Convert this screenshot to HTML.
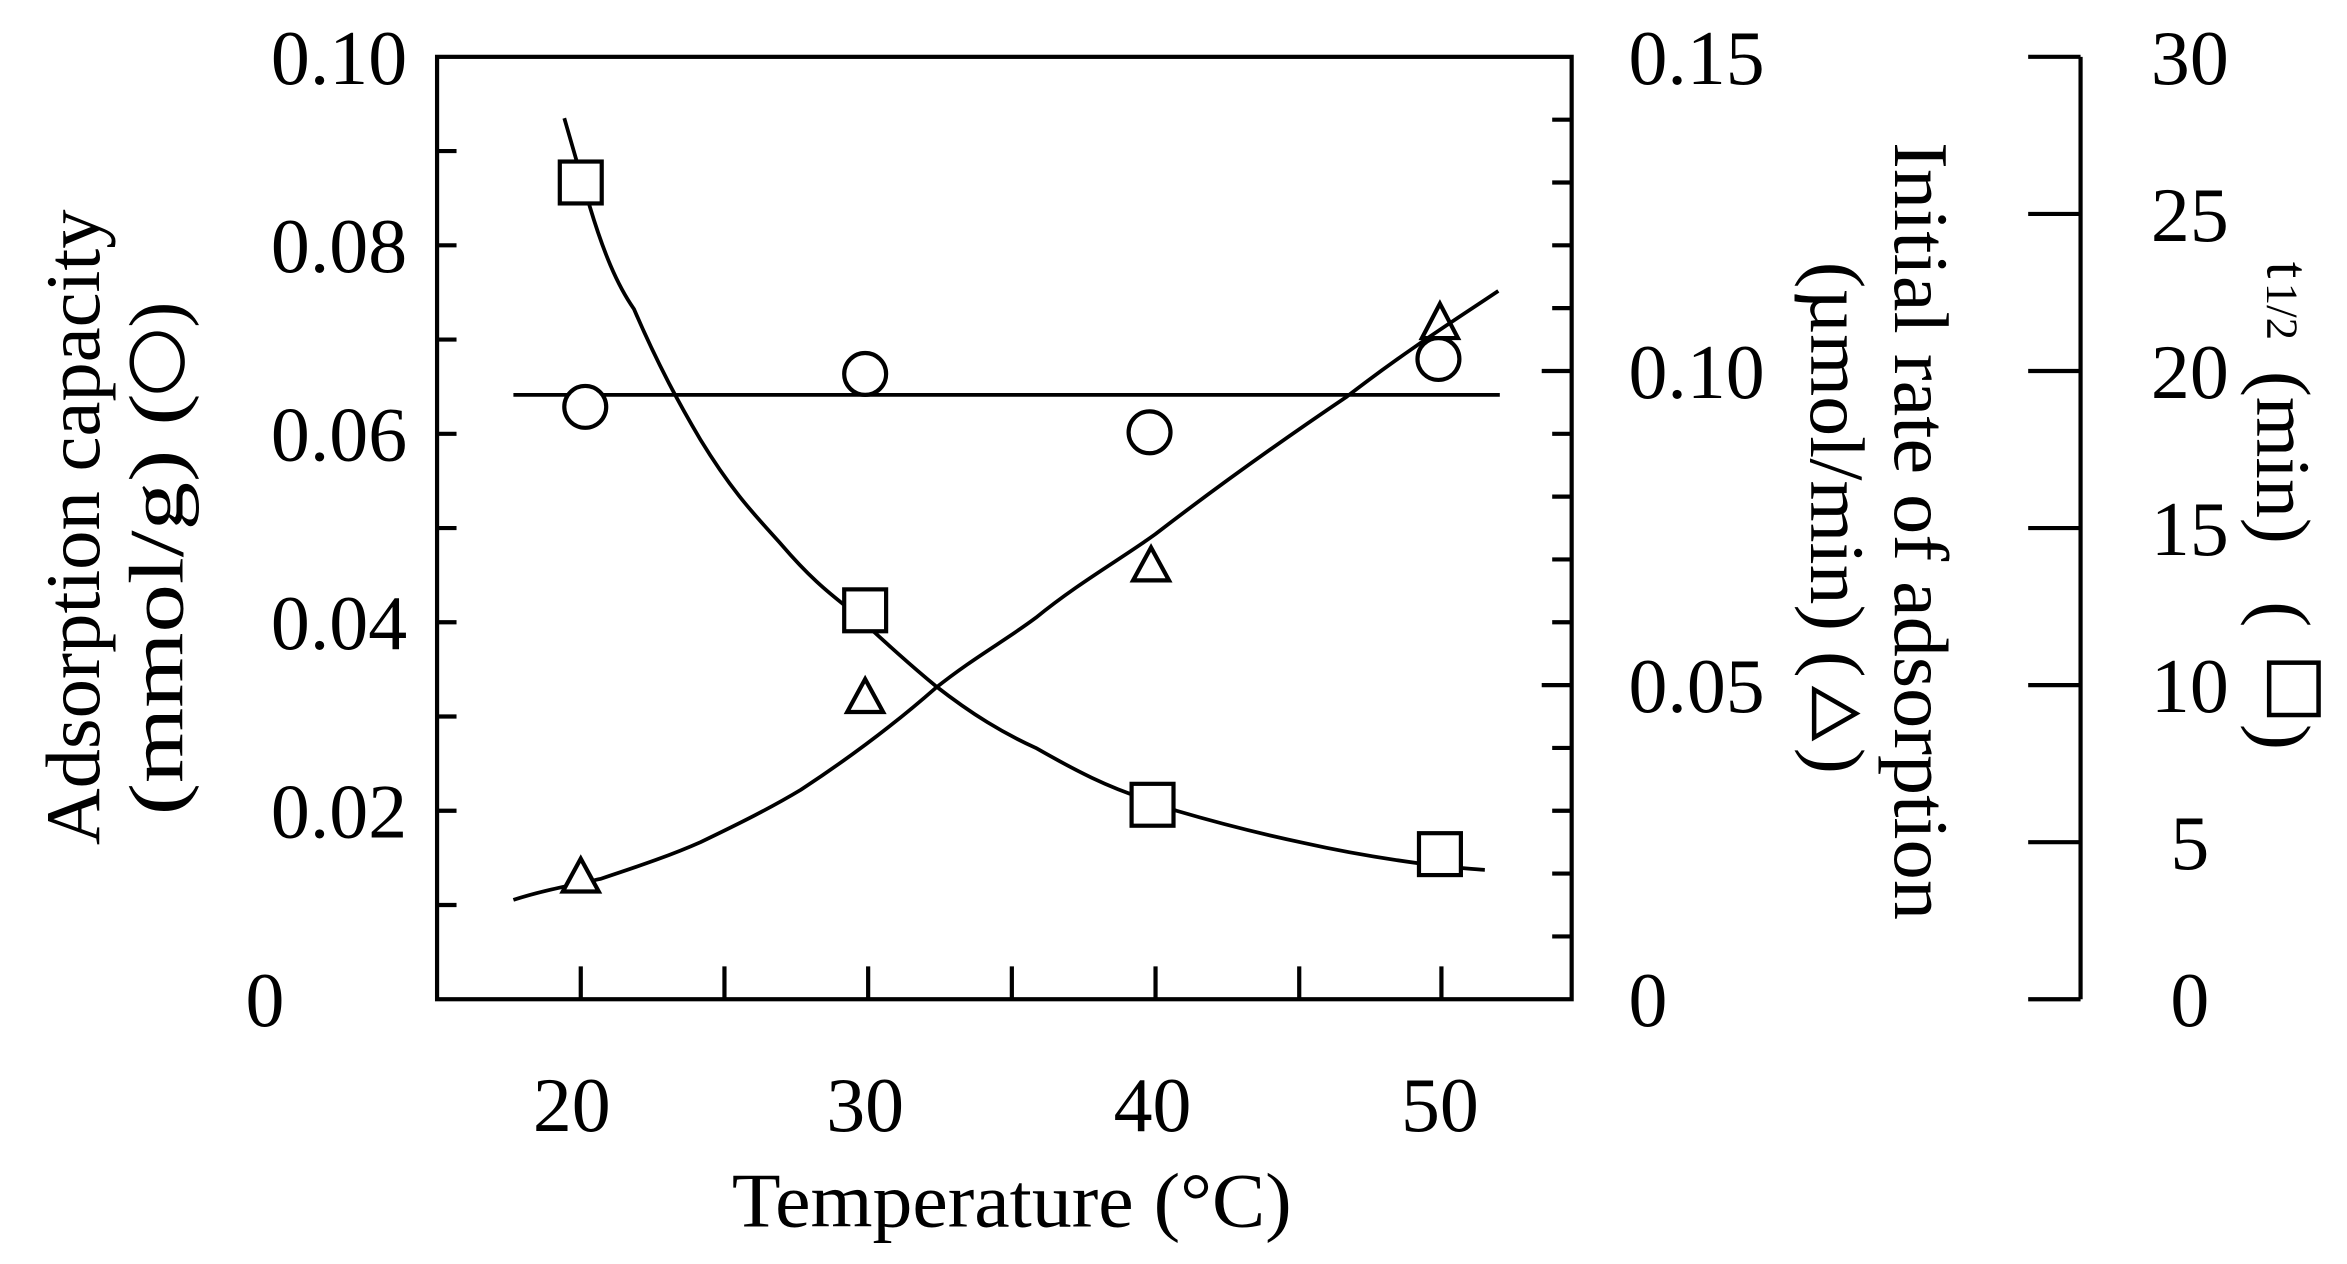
<!DOCTYPE html>
<html><head><meta charset="utf-8"><style>
html,body{margin:0;padding:0;background:#fff;}
svg{display:block;}
text{font-family:"Liberation Serif","DejaVu Serif",serif;fill:#000;}
</style></head><body>
<svg width="2347" height="1264" viewBox="0 0 1568 845" preserveAspectRatio="none" xmlns="http://www.w3.org/2000/svg">
<rect x="0" y="0" width="1568" height="845" fill="#fff"/>
<g stroke="#000" stroke-width="2.8" fill="none">
<rect x="292" y="38" width="758" height="630"/>
<path d="M292 101h13M292 164h13M292 227h13M292 290h13M292 353h13M292 416h13M292 479h13M292 542h13M292 605h13"/>
<path d="M1050 80h-13M1050 122h-13M1050 164h-13M1050 206h-13M1050 248h-20M1050 290h-13M1050 332h-13M1050 374h-13M1050 416h-13M1050 458h-20M1050 500h-13M1050 542h-13M1050 584h-13M1050 626h-13"/>
<path d="M388 668v-22M484 668v-22M580 668v-22M676 668v-22M772 668v-22M868 668v-22M963 668v-22"/>
<path d="M1390 38v630M1355 38h35M1355 143h35M1355 248h35M1355 353h35M1355 458h35M1355 563h35M1355 668h35"/>
</g>
<g stroke="#000" stroke-width="2.5" fill="none">
<path d="M343 264H1002"/>
<path d="M377 79 L394 138 C403 168 412 190 423.5 206.5 C440 245 455 272 468 294 C490 330 505 345 522 364 C540 385 552 395 566 406 C590 428 605 442 625 458.5 C650 478 670 490 692 500 C720 516 740 526 763.5 533.6 C775 538 780 540 786 542 C820 552 845 558 871 563.5 C900 570 925 574 947 577 C965 579 980 581 992 581.5"/>
<path d="M343 601.6 C360 596 380 592 401 587.6 C430 578 450 571 468 563 C495 550 515 540 535 528 C570 505 600 482 625 460 C650 440 672 428 692 413 C720 390 750 373 772 357 C820 320 860 292 900 265 C940 234 975 212 1001 194.5"/>
</g>
<g stroke="#000" stroke-width="2.8" fill="#fff">
<circle cx="391" cy="272" r="14"/>
<circle cx="578" cy="250" r="14"/>
<circle cx="768" cy="289" r="14"/>
<circle cx="961" cy="240" r="14"/>
<rect x="374" y="108" width="28" height="28"/>
<rect x="564" y="394" width="28" height="28"/>
<rect x="756" y="524" width="28" height="28"/>
<rect x="948" y="557" width="28" height="28"/>
<path d="M388 574 L400 596 L376 596 Z"/>
<path d="M578 454 L590 476 L566 476 Z"/>
<path d="M769 366 L781 388 L757 388 Z"/>
<path d="M962 203 L974 226 L950 226 Z" fill="none"/>
</g>
<g stroke="#000" stroke-width="3" fill="none">
<ellipse cx="105" cy="242" rx="17" ry="19"/>
<path d="M1212 461 L1212 493 L1240 477 Z"/>
<rect x="1516" y="443" width="33" height="35"/>
</g>
<g font-size="52">
<g text-anchor="end">
<text x="272" y="56">0.10</text>
<text x="272" y="182">0.08</text>
<text x="272" y="308">0.06</text>
<text x="272" y="434">0.04</text>
<text x="272" y="560">0.02</text>
<text x="190" y="686">0</text>
</g>
<text x="1088" y="56">0.15</text>
<text x="1088" y="266">0.10</text>
<text x="1088" y="476">0.05</text>
<text x="1088" y="686">0</text>
<g text-anchor="middle">
<text x="1463" y="56">30</text>
<text x="1463" y="161">25</text>
<text x="1463" y="266">20</text>
<text x="1463" y="371">15</text>
<text x="1463" y="476">10</text>
<text x="1463" y="581">5</text>
<text x="1463" y="686">0</text>
<text x="382" y="756">20</text>
<text x="578" y="756">30</text>
<text x="770" y="756">40</text>
<text x="962" y="756">50</text>
<text x="676" y="820" textLength="374" lengthAdjust="spacingAndGlyphs">Temperature (°C)</text>
</g>
<text transform="translate(66,565) rotate(-90)" textLength="425" lengthAdjust="spacingAndGlyphs">Adsorption capacity</text>
<text transform="translate(122,545) rotate(-90)" textLength="282" lengthAdjust="spacingAndGlyphs">(mmol/g) (</text>
<text transform="translate(122,219) rotate(-90)">)</text>
<text transform="translate(1266,95) rotate(90)" textLength="520" lengthAdjust="spacingAndGlyphs">Initial rate of adsorption</text>
<text transform="translate(1210,175) rotate(90)" textLength="278" lengthAdjust="spacingAndGlyphs">(µmol/min) (</text>
<text transform="translate(1210,500) rotate(90)">)</text>
<text transform="translate(1515,175) rotate(90)" font-size="40">t</text>
<text transform="translate(1515,189) rotate(90)" font-size="30">1/2</text>
<text transform="translate(1508,248) rotate(90)">(min)</text>
<text transform="translate(1508,402) rotate(90)">(</text>
<text transform="translate(1508,484) rotate(90)">)</text>
</g>
</svg>
</body></html>
